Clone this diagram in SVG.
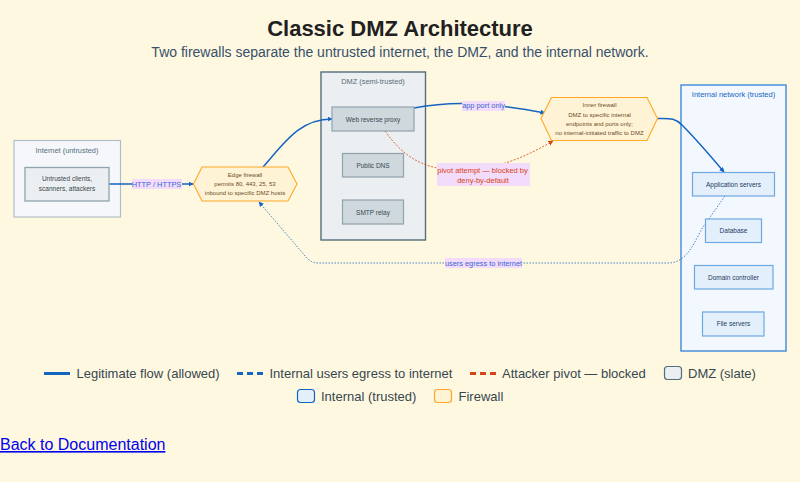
<svg xmlns="http://www.w3.org/2000/svg" width="800" height="482" viewBox="0 0 800 482">
<style>
text{font-family:"Liberation Sans",Arial,sans-serif;text-anchor:middle}
.n{font-size:6.5px;fill:#37474f}
.t{font-size:7.4px;fill:#546e7a}
.f{font-size:6px;fill:#6d4c1f}
.i{font-size:6.5px;fill:#1f3a5f}
.gw{fill:#eceff1;stroke:#90a4ae;stroke-width:1.3}
.fw{fill:#fff3d6;stroke:#ffa726;stroke-width:1.1}
.dm{fill:#cfd8dc;stroke:#90a4ae;stroke-width:1.2}
.in{fill:#e3f0fc;stroke:#6ea8e0;stroke-width:1.2}
.c{fill:none;stroke:#1565c0}
.lg{font-size:13px;fill:#37474f;text-anchor:start}
.lb{fill:#f3dcfb}
.lt{font-size:7.4px;fill:#3a66d0}
.lr{font-size:7.5px;fill:#d84315}
</style>
<defs>
<marker id="ab" markerWidth="6" markerHeight="6" refX="4.5" refY="2.5" orient="auto" markerUnits="userSpaceOnUse"><path d="M0 0L5 2.5L0 5z" fill="#1565c0"/></marker>
<marker id="ar" markerWidth="6" markerHeight="6" refX="4.5" refY="2.5" orient="auto" markerUnits="userSpaceOnUse"><path d="M0 0L5 2.5L0 5z" fill="#d84315"/></marker>
</defs>
<rect width="800" height="482" fill="#fff8e1"/>
<text x="400" y="36" style="font-size:22px;font-weight:700;fill:#212121">Classic DMZ Architecture</text>
<text x="400" y="57" style="font-size:14px;fill:#37506a">Two firewalls separate the untrusted internet, the DMZ, and the internal network.</text>

<g id="zone-internet"><rect x="14" y="140.5" width="106.5" height="76.5" fill="#f5f7fa" stroke="#b0bec5" stroke-width="1.2"/><text class="t" x="67" y="153">Internet (untrusted)</text></g>
<g id="zone-dmz"><rect x="321" y="72" width="104.500" height="168" fill="#eceff1" stroke="#546e7a" stroke-width="1.4"/><text class="t" x="373" y="84">DMZ (semi-trusted)</text></g>
<g id="zone-internal"><rect x="681" y="85" width="105" height="266" fill="#f3f8ff" stroke="#4a8fdb" stroke-width="1.5"/><text x="733.500" y="97" style="font-size:7.500px;fill:#1565c0">Internal network (trusted)</text></g>

<g id="connectors">
<path class="c" d="M109 184H193" stroke-width="1.5" marker-end="url(#ab)"/>
<path class="c" d="M263 167C285 142 300 119 332 119" stroke-width="1.5" marker-end="url(#ab)"/>
<path class="c" d="M414 108C455 100 490 103 545 113" stroke-width="1.5" marker-end="url(#ab)"/>
<path class="c" d="M657 118.500C672 118 676 119 682 125C695 138 708 153 724 172" stroke-width="1.5" marker-end="url(#ab)"/>
<path d="M385 131C402 155 420 167 450 170C490 172 520 160 553 141" fill="none" stroke="#d84315" stroke-width=".8" stroke-dasharray="2 1.500" marker-end="url(#ar)"/>
<path class="c" d="M725 196L703 227C695 240 688 263 668 263H318Q311 263 306 257L259 202" stroke-width=".8" stroke-dasharray="1.500 1.500" marker-end="url(#ab)"/>
</g>

<g id="label-http"><rect class="lb" x="132" y="179" width="50" height="10"/><text class="lt" x="156.500" y="186.500">HTTP / HTTPS</text></g>
<g id="label-app"><rect class="lb" x="462" y="101" width="43" height="10"/><text class="lt" x="483.500" y="108">app port only</text></g>
<g id="label-pivot"><rect class="lb" x="437" y="163" width="93" height="23"/><text class="lr" x="482.500" y="172.500">pivot attempt — blocked by</text><text class="lr" x="483" y="183">deny-by-default</text></g>
<g id="label-egress"><rect class="lb" x="445" y="258" width="77" height="10"/><text class="lt" x="483.500" y="265.500">users egress to internet</text></g>

<g id="node-clients"><rect class="gw" x="25" y="167.500" width="84" height="33.500"/><text class="n" x="67" y="181">Untrusted clients,</text><text class="n" x="67" y="191">scanners, attackers</text></g>
<g id="node-edge-fw"><path class="fw" d="M193.500 184L202 167H288L297 184L288 201H202z"/><text class="f" x="245" y="177">Edge firewall</text><text class="f" x="245" y="186">permits 80, 443, 25, 53</text><text class="f" x="245" y="195">inbound to specific DMZ hosts</text></g>
<g id="node-proxy"><rect class="dm" x="332" y="107" width="82" height="24"/><text class="n" x="373" y="121.500">Web reverse proxy</text></g>
<g id="node-dns"><rect class="dm" x="342.500" y="153.500" width="61" height="23.500"/><text class="n" x="373" y="168">Public DNS</text></g>
<g id="node-smtp"><rect class="dm" x="342.500" y="200" width="61" height="24"/><text class="n" x="373" y="214.500">SMTP relay</text></g>
<g id="node-inner-fw"><path class="fw" d="M541 118.500L551.500 97.500H647L657.500 118.500L647 140.500H551.500z"/><text class="f" x="599.500" y="107">Inner firewall</text><text class="f" x="599.500" y="117">DMZ to specific internal</text><text class="f" x="599.500" y="125.500">endpoints and ports only;</text><text class="f" x="599.500" y="135">no internal-initiated traffic to DMZ</text></g>
<g id="node-app"><rect class="in" x="692.500" y="172.500" width="82" height="23.500"/><text class="i" x="733.500" y="186.500">Application servers</text></g>
<g id="node-db"><rect class="in" x="705.500" y="219" width="56" height="23.500"/><text class="i" x="733.500" y="233">Database</text></g>
<g id="node-dc"><rect class="in" x="694.500" y="265.500" width="78.500" height="23.500"/><text class="i" x="733.500" y="280">Domain controller</text></g>
<g id="node-files"><rect class="in" x="702.500" y="312" width="61.500" height="24"/><text class="i" x="733.500" y="326">File servers</text></g>

<g id="legend">
<path d="M44 373.500H70" stroke="#1565c0" stroke-width="3" fill="none"/><text class="lg" x="76.500" y="378">Legitimate flow (allowed)</text>
<path d="M237 373.500H263" stroke="#1565c0" stroke-width="3" stroke-dasharray="6 4" fill="none"/><text class="lg" x="269.500" y="378">Internal users egress to internet</text>
<path d="M470 373.500H496" stroke="#d84315" stroke-width="3" stroke-dasharray="6 4" fill="none"/><text class="lg" x="502" y="378">Attacker pivot — blocked</text>
<rect x="664.500" y="366.500" width="17" height="13" rx="3" fill="#eceff1" stroke="#546e7a" stroke-width="1.200"/><text class="lg" x="688" y="378">DMZ (slate)</text>
<rect x="297.500" y="389.500" width="17" height="13" rx="3" fill="#e3f0fc" stroke="#1565c0" stroke-width="1.200"/><text class="lg" x="321" y="401">Internal (trusted)</text>
<rect x="434.500" y="389.500" width="17" height="13" rx="3" fill="#fff3d6" stroke="#ffa726" stroke-width="1.200"/><text class="lg" x="458.500" y="401">Firewall</text>
</g>
<text x="0" y="450" style="font-size:16px;fill:#0000ee;text-anchor:start;text-decoration:underline">Back to Documentation</text>
</svg>
